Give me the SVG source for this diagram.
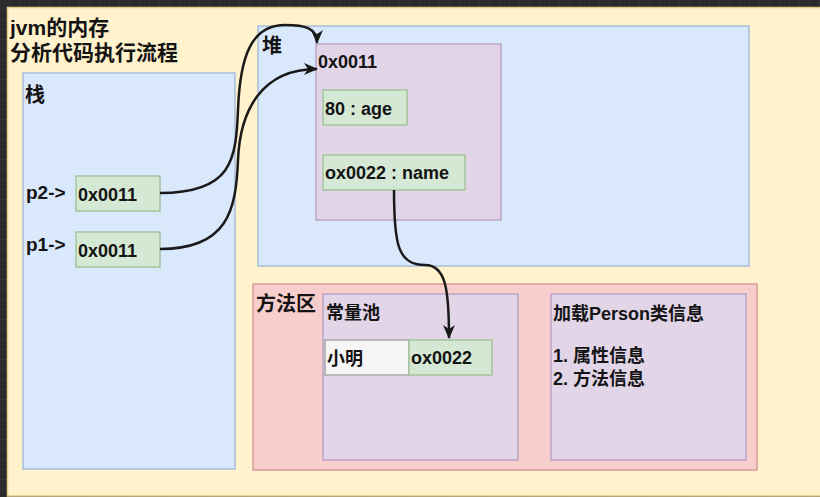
<svg xmlns="http://www.w3.org/2000/svg" width="820" height="497" viewBox="0 0 820 497">
<defs>
<pattern id="grid" width="10" height="10" patternUnits="userSpaceOnUse">
<rect width="10" height="10" fill="#2b2b2b"/>
<path d="M10 0V10M0 10H10" stroke="#3d3d3d" stroke-width="1" fill="none"/>
</pattern>
<marker id="arr" viewBox="0 0 14 12" refX="13" refY="6" markerWidth="14" markerHeight="12" markerUnits="userSpaceOnUse" orient="auto">
<path d="M0,0 L14,6 L0,12 L4,6 Z" fill="#1a1a1a"/>
</marker>
</defs>
<style>
text{font-family:"Liberation Sans","Noto Sans CJK SC",sans-serif;font-weight:bold;fill:#141414;font-size:18px}
text.title{font-size:21px}
text.area{font-size:20px}
text.lbl{font-size:19px}
.yellow{fill:#fff2cc;stroke:#e3cd8e;stroke-width:1.5}
.blue{fill:#dae8fc;stroke:#a6bddb;stroke-width:1.5}
.purple{fill:#e1d5e7;stroke:#b9a5c8;stroke-width:1.5}
.green{fill:#d5e8d4;stroke:#a3c59a;stroke-width:1.5}
.red{fill:#f8cecc;stroke:#d99a97;stroke-width:1.5}
.gray{fill:#f5f5f5;stroke:#a8a8a8;stroke-width:1.5}
.edge{fill:none;stroke:#1a1a1a;stroke-width:2.5;marker-end:url(#arr)}
</style>
<rect x="0" y="0" width="820" height="497" fill="url(#grid)"/>
<g id="container">
<rect class="yellow" x="7.5" y="7.5" width="814" height="488.5"/>
<text class="title" x="10" y="35">jvm的内存</text>
<text class="title" x="10" y="60">分析代码执行流程</text>
</g>
<g id="stack">
<rect class="blue" x="23" y="73" width="212" height="396"/>
<text class="area" x="25" y="102">栈</text>
<text class="lbl" x="26" y="199">p2-&gt;</text>
<text class="lbl" x="26" y="251">p1-&gt;</text>
</g>
<g id="p2">
<rect class="green" x="76" y="176" width="84" height="35"/>
<text x="78" y="201">0x0011</text>
</g>
<g id="p1">
<rect class="green" x="76" y="232" width="84" height="35"/>
<text x="78" y="257">0x0011</text>
</g>
<g id="heap">
<rect class="blue" x="258" y="26" width="491" height="240"/>
<text class="area" x="262" y="53">堆</text>
</g>
<g id="person-object">
<rect class="purple" x="316" y="44" width="185" height="176"/>
<text x="318" y="68">0x0011</text>
</g>
<g id="age">
<rect class="green" x="323" y="90" width="84" height="35"/>
<text x="325" y="115">80 : age</text>
</g>
<g id="name">
<rect class="green" x="323" y="155" width="142" height="35"/>
<text x="325" y="179">ox0022 : name</text>
</g>
<g id="method-area">
<rect class="red" x="253" y="284" width="504" height="186"/>
<text class="area" x="256" y="311">方法区</text>
</g>
<g id="constant-pool">
<rect class="purple" x="323" y="294" width="195" height="166"/>
<text x="326" y="319">常量池</text>
</g>
<g id="xiaoming">
<rect class="gray" x="325" y="340" width="84" height="35"/>
<text x="327" y="365">小明</text>
</g>
<g id="ox0022">
<rect class="green" x="409" y="340" width="83" height="35"/>
<text x="411" y="364">ox0022</text>
</g>
<g id="class-info">
<rect class="purple" x="551" y="294" width="195" height="166"/>
<text x="553" y="320">加载Person类信息</text>
<text x="553" y="362">1. 属性信息</text>
<text x="553" y="385">2. 方法信息</text>
</g>
<g id="connectors">
<path class="edge" d="M160,193 C232,193 236,160 238,110 C240,55 252,25 285,25 C305,25 317,28 317,43"/>
<path class="edge" d="M160,249 C228,249 236,210 238,160 C240,110 262,69 317,69"/>
<path class="edge" d="M394,190 C394,245 398,265 425,265 C446,265 449,290 449,338"/>
</g>
</svg>
